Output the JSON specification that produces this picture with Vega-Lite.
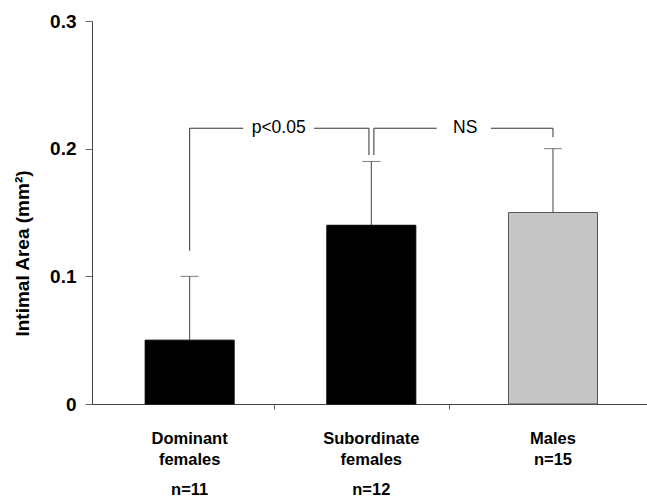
{
  "$schema": "https://vega.github.io/schema/vega-lite/v6.json",
  "autosize": "none",
  "width": 555,
  "height": 383,
  "padding": {"left": 92, "top": 21, "right": 0, "bottom": 93},
  "background": "white",
  "config": {
    "view": {"stroke": null},
    "font": "Liberation Sans",
    "axis": {"labelFont": "Liberation Sans", "titleFont": "Liberation Sans", "grid": false}
  },
  "datasets": {
    "bars": [
      {"group": "Dominant", "xc": 0.51, "mean": 0.05, "upper": 0.1, "label": "Dominant\nfemales", "n": "n=11"},
      {"group": "Subordinate", "xc": 1.51, "mean": 0.14, "upper": 0.19, "label": "Subordinate\nfemales", "n": "n=12"},
      {"group": "Males", "xc": 2.51, "mean": 0.15, "upper": 0.2, "label": "Males\nn=15", "n": ""}
    ],
    "bracket": [
      {"x1": 0.51, "x2": 0.51, "y1": 0.12, "y2": 0.216},
      {"x1": 0.51, "x2": 0.805, "y1": 0.216, "y2": 0.216},
      {"x1": 1.195, "x2": 1.497, "y1": 0.216, "y2": 0.216},
      {"x1": 1.497, "x2": 1.497, "y1": 0.195, "y2": 0.216},
      {"x1": 1.524, "x2": 1.524, "y1": 0.195, "y2": 0.216},
      {"x1": 1.524, "x2": 1.87, "y1": 0.216, "y2": 0.216},
      {"x1": 2.168, "x2": 2.51, "y1": 0.216, "y2": 0.216},
      {"x1": 2.51, "x2": 2.51, "y1": 0.209, "y2": 0.216}
    ],
    "notes": [
      {"x": 1.0, "y": 0.216, "text": "p<0.05"},
      {"x": 2.027, "y": 0.216, "text": "NS"}
    ]
  },
  "layer": [
    {
      "data": {"name": "bars"},
      "mark": {"type": "rule", "color": "#444", "strokeWidth": 1},
      "encoding": {
        "x": {"field": "xc", "type": "quantitative", "scale": {"domain": [0, 3], "nice": false, "zero": false},
          "axis": {"values": [0.973, 1.94], "labels": false, "title": null, "tickSize": 5, "tickColor": "#666", "domainColor": "#444", "domainWidth": 1.2}},
        "y": {"field": "mean", "type": "quantitative", "scale": {"domain": [0, 0.3], "nice": false},
          "axis": {"values": [0, 0.1, 0.2, 0.3], "title": "Intimal Area (mm²)", "titleFontSize": 19, "titleFontWeight": "bold", "titleColor": "#000",
            "titleX": -60, "titleY": 232, "titleAngle": -90, "titleAlign": "center",
            "labelFontSize": 19, "labelFontWeight": "bold", "labelColor": "#000", "labelPadding": 9, "tickSize": 7, "tickColor": "#666", "domainColor": "#444",
            "labelExpr": "datum.value == 0 ? '0' : format(datum.value, '.1f')"}},
        "y2": {"field": "upper"}
      }
    },
    {
      "data": {"name": "bars"},
      "mark": {"type": "tick", "orient": "horizontal", "size": 18, "thickness": 1, "color": "#444"},
      "encoding": {
        "x": {"field": "xc", "type": "quantitative"},
        "y": {"field": "upper", "type": "quantitative"}
      }
    },
    {
      "data": {"name": "bars"},
      "mark": {"type": "bar", "orient": "vertical", "width": 89, "strokeWidth": 1},
      "encoding": {
        "x": {"field": "xc", "type": "quantitative"},
        "y": {"field": "mean", "type": "quantitative"},
        "y2": {"datum": 0},
        "fill": {"field": "group", "type": "nominal", "scale": {"domain": ["Dominant", "Subordinate", "Males"], "range": ["#000000", "#000000", "#c6c6c6"]}, "legend": null},
        "stroke": {"field": "group", "type": "nominal", "scale": {"domain": ["Dominant", "Subordinate", "Males"], "range": ["#000000", "#000000", "#555555"]}, "legend": null}
      }
    },
    {
      "data": {"name": "bracket"},
      "mark": {"type": "rule", "color": "#333", "strokeWidth": 1},
      "encoding": {
        "x": {"field": "x1", "type": "quantitative"},
        "x2": {"field": "x2"},
        "y": {"field": "y1", "type": "quantitative"},
        "y2": {"field": "y2"}
      }
    },
    {
      "data": {"name": "notes"},
      "mark": {"type": "text", "fontSize": 17.5, "baseline": "middle", "align": "center", "color": "#000"},
      "encoding": {
        "x": {"field": "x", "type": "quantitative"},
        "y": {"field": "y", "type": "quantitative"},
        "text": {"field": "text"}
      }
    },
    {
      "data": {"name": "bars"},
      "mark": {"type": "text", "fontSize": 16.5, "fontWeight": "bold", "baseline": "top", "align": "center", "lineBreak": "\n", "lineHeight": 21, "dy": 27, "clip": false, "color": "#000"},
      "encoding": {
        "x": {"field": "xc", "type": "quantitative"},
        "y": {"datum": 0, "type": "quantitative"},
        "text": {"field": "label"}
      }
    },
    {
      "data": {"name": "bars"},
      "mark": {"type": "text", "fontSize": 16.5, "fontWeight": "bold", "baseline": "top", "align": "center", "dy": 78, "clip": false, "color": "#000"},
      "encoding": {
        "x": {"field": "xc", "type": "quantitative"},
        "y": {"datum": 0, "type": "quantitative"},
        "text": {"field": "n"}
      }
    }
  ]
}
